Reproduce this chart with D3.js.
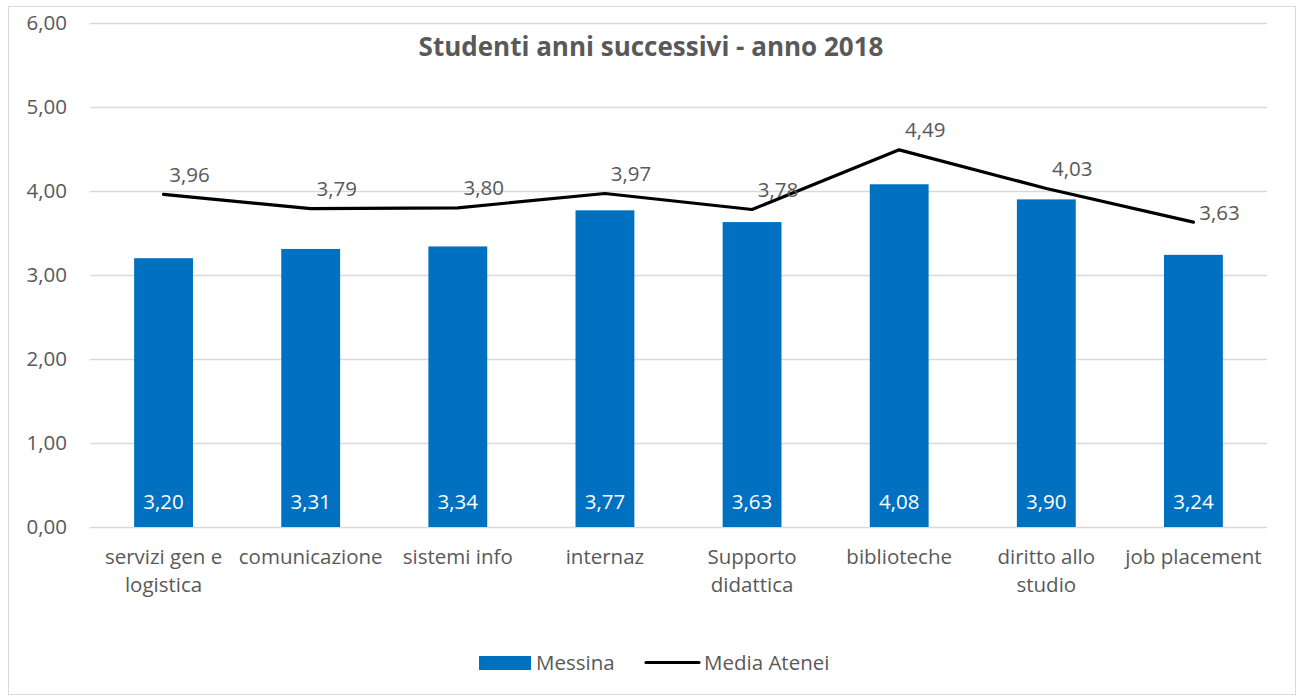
<!DOCTYPE html>
<html>
<head>
<meta charset="utf-8">
<script src="https://cdn.jsdelivr.net/npm/d3@7"></script>
<style>
  body { margin: 0; background: #fff; }
  text { font-family: "Open Sans", "Noto Sans", sans-serif; fill: #595959; }
</style>
</head>
<body>
<svg id="chart" width="1297" height="697"></svg>
<script>
// data
const categories = ["servizi gen e logistica", "comunicazione", "sistemi info", "internaz",
  "Supporto didattica", "biblioteche", "diritto allo studio", "job placement"];
const messina = [3.20, 3.31, 3.34, 3.77, 3.63, 4.08, 3.90, 3.24];
const mediaAtenei = [3.96, 3.79, 3.80, 3.97, 3.78, 4.49, 4.03, 3.63];
const yTicks = [0, 1, 2, 3, 4, 5, 6];
// wrapped axis labels
const catLines = [["servizi gen e", "logistica"], ["comunicazione"], ["sistemi info"], ["internaz"],
  ["Supporto", "didattica"], ["biblioteche"], ["diritto allo", "studio"], ["job placement"]];

const svg = d3.select("#chart");
const margin = {left: 90, right: 30, top: 23, bottom: 170};
const W = 1297, H = 697;
const fs = "20.5px";

const fmt = v => d3.format(".2f")(v).replace(".", ",");

// outer chart border
svg.append("rect").attr("x", 8.5).attr("y", 6.5).attr("width", 1287).attr("height", 688)
  .attr("fill", "#fff").attr("stroke", "#d9d9d9");

const x = d3.scaleBand().domain(categories).range([margin.left, W - margin.right]).paddingInner(0.6).paddingOuter(0.3);
const y = d3.scaleLinear().domain([0, 6]).range([H - margin.bottom, margin.top]);

// gridlines
svg.append("g").selectAll("line").data(yTicks).join("line")
  .attr("x1", margin.left).attr("x2", W - margin.right)
  .attr("y1", d => y(d) + 0.5).attr("y2", d => y(d) + 0.5)
  .attr("stroke", "#d9d9d9").attr("stroke-width", 1.3);

// y labels
svg.append("g").selectAll("text").data(yTicks).join("text")
  .attr("x", 67).attr("y", d => y(d)).attr("dy", "0.35em")
  .attr("text-anchor", "end").style("font-size", fs)
  .text(d => fmt(d));

// bars
svg.append("g").selectAll("rect").data(messina).join("rect")
  .attr("x", (d, i) => x(categories[i]))
  .attr("width", x.bandwidth())
  .attr("y", d => y(d)).attr("height", d => y(0) - y(d))
  .attr("fill", "#0070C0");

// bar labels (inside base)
svg.append("g").selectAll("text").data(messina).join("text")
  .attr("x", (d, i) => x(categories[i]) + x.bandwidth() / 2)
  .attr("y", y(0) - 25).attr("dy", "0.35em")
  .attr("text-anchor", "middle").style("font-size", fs).style("fill", "#fff")
  .text(d => fmt(d));

// line
const cx = i => x(categories[i]) + x.bandwidth() / 2;
const line = d3.line().x((d, i) => cx(i)).y(d => y(d));
svg.append("path").datum(mediaAtenei).attr("d", line)
  .attr("fill", "none").attr("stroke", "#000").attr("stroke-width", 3.2)
  .attr("stroke-linejoin", "round").attr("stroke-linecap", "round");

svg.append("g").selectAll("text").data(mediaAtenei).join("text")
  .attr("x", (d, i) => cx(i) + 26)
  .attr("y", (d, i) => y(d) - (i === mediaAtenei.length - 1 ? 9 : 20))
  .attr("dy", "0.35em")
  .attr("text-anchor", "middle").style("font-size", fs)
  .text(d => fmt(d));

// category labels
const cat = svg.append("g").selectAll("text").data(catLines).join("text")
  .attr("text-anchor", "middle").style("font-size", fs)
  .attr("x", (d, i) => cx(i)).attr("y", y(0) + 37);
cat.selectAll("tspan").data(d => d).join("tspan")
  .attr("x", function() { return d3.select(this.parentNode).attr("x"); })
  .attr("dy", (d, j) => j === 0 ? 0 : 28)
  .text(d => d);

// title
svg.append("text").attr("x", 651).attr("y", 47).attr("dy", "0.35em")
  .attr("text-anchor", "middle").style("font-size", "26px").style("font-weight", "bold")
  .text("Studenti anni successivi - anno 2018");

// legend
const lg = svg.append("g");
lg.append("rect").attr("x", 479).attr("y", 656).attr("width", 52).attr("height", 14).attr("fill", "#0070C0");
lg.append("text").attr("x", 536).attr("y", 663).attr("dy", "0.35em").style("font-size", fs).text("Messina");
lg.append("line").attr("x1", 646).attr("x2", 699).attr("y1", 662.5).attr("y2", 662.5)
  .attr("stroke", "#000").attr("stroke-width", 3.2).attr("stroke-linecap", "round");
lg.append("text").attr("x", 704).attr("y", 663).attr("dy", "0.35em").style("font-size", fs).text("Media Atenei");
</script>
</body>
</html>
